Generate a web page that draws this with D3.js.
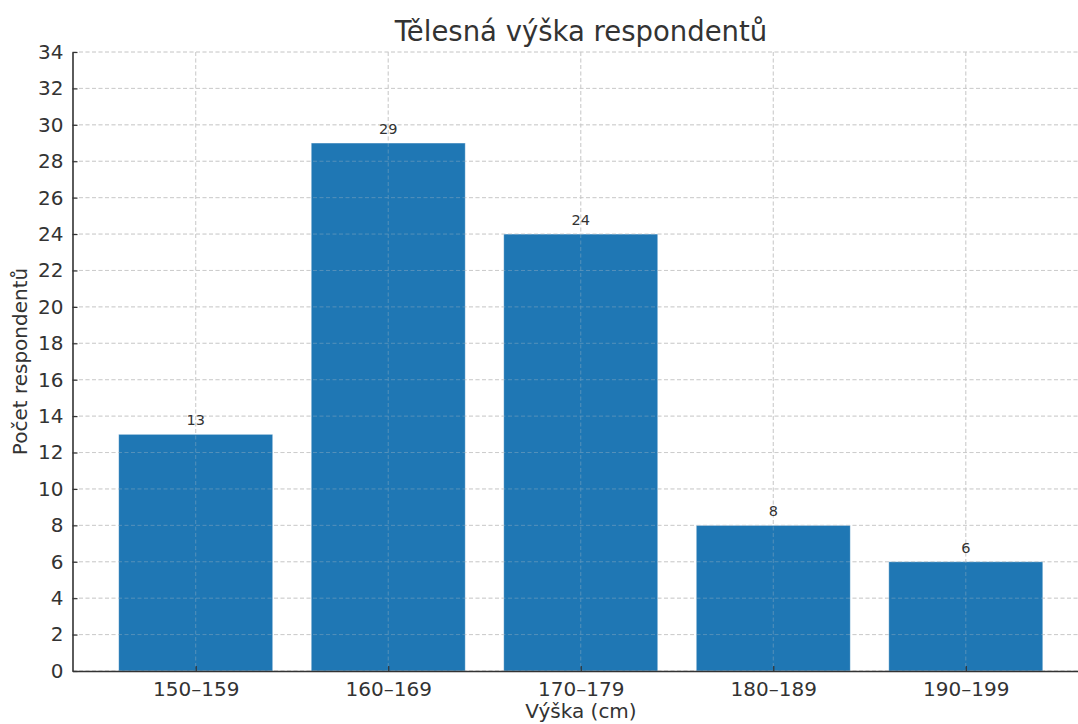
<!DOCTYPE html>
<html>
<head>
<meta charset="utf-8">
<script src="https://cdn.jsdelivr.net/npm/d3@7"></script>
<style>
  html, body { margin: 0; padding: 0; background: #fff; }
  svg { display: block; font-family: "DejaVu Sans", sans-serif; }
</style>
</head>
<body>
<svg id="chart" width="1078" height="724"></svg>
<script>
// Height groups and respondent counts
const categories = ["150–159", "160–169", "170–179", "180–189", "190–199"];
const counts = [13, 29, 24, 8, 6];
const yTicks = d3.range(0, 35, 2);

const W = 1078, H = 724;
const margin = { left: 72.5, top: 52, bottom: 53 };
const plotRight = 1089; // plot area continues past the canvas edge
const plotBottom = H - margin.bottom;

const svg = d3.select("#chart");
const textColor = "#333333";

// Linear scale on category index, with matplotlib-style margins
const x = d3.scaleLinear().domain([-0.64, categories.length - 1 + 0.64]).range([margin.left, plotRight]);
const y = d3.scaleLinear().domain([0, 34]).range([plotBottom, margin.top]);
const barWidth = 0.8;

function drawGrid(g) {
  g.selectAll("line.h").data(yTicks).join("line")
    .attr("class", "h")
    .attr("x1", margin.left).attr("x2", plotRight)
    .attr("y1", d => y(d)).attr("y2", d => y(d))
    .attr("stroke", "#c8c8c8").attr("stroke-width", 0.9)
    .attr("stroke-dasharray", "4,2.5");
  g.selectAll("line.v").data(categories.map((c, i) => i)).join("line")
    .attr("class", "v")
    .attr("x1", d => x(d)).attr("x2", d => x(d))
    .attr("y1", margin.top).attr("y2", plotBottom)
    .attr("stroke", "#c8c8c8").attr("stroke-width", 0.9)
    .attr("stroke-dasharray", "4,2.5");
}

// Grid behind bars
drawGrid(svg.append("g"));

// Bars
svg.append("g").selectAll("rect").data(counts).join("rect")
  .attr("x", (d, i) => x(i - barWidth / 2))
  .attr("width", (d, i) => x(i + barWidth / 2) - x(i - barWidth / 2))
  .attr("y", d => y(d))
  .attr("height", d => y(0) - y(d))
  .attr("fill", "#1f77b4")
  .attr("stroke", "#ffffff").attr("stroke-opacity", 0.5).attr("stroke-width", 0.8);

// Faint grid showing through the bars
drawGrid(svg.append("g").attr("opacity", 0.35));

// Value labels
svg.append("g").selectAll("text").data(counts).join("text")
  .attr("x", (d, i) => x(i))
  .attr("y", d => y(d) - 9)
  .attr("text-anchor", "middle")
  .attr("font-size", 14.5)
  .attr("fill", textColor)
  .text(d => d);

// Y axis
const yAxis = d3.axisLeft(y).tickValues(yTicks).tickSize(-5).tickPadding(9).tickSizeOuter(0);
const gy = svg.append("g").attr("transform", `translate(${margin.left},0)`).call(yAxis);
gy.select(".domain").attr("stroke", textColor).attr("stroke-width", 1.6);
gy.selectAll(".tick line").attr("stroke", textColor).attr("stroke-width", 1.2);
gy.selectAll(".tick text").attr("font-size", 20).attr("fill", textColor)
  .attr("font-family", "DejaVu Sans, sans-serif");

// X axis
const xAxis = d3.axisBottom(x).tickValues(categories.map((c, i) => i))
  .tickFormat(i => categories[i]).tickSize(-5).tickPadding(11).tickSizeOuter(0);
const gx = svg.append("g").attr("transform", `translate(0,${plotBottom})`).call(xAxis);
gx.select(".domain").attr("stroke", textColor).attr("stroke-width", 1.6);
gx.selectAll(".tick line").attr("stroke", textColor).attr("stroke-width", 1.2);
gx.selectAll(".tick text").attr("font-size", 20).attr("fill", textColor)
  .attr("font-family", "DejaVu Sans, sans-serif");

// Title and axis labels
svg.append("text")
  .attr("x", 581).attr("y", 41)
  .attr("text-anchor", "middle")
  .attr("font-size", 27.5).attr("fill", textColor)
  .text("Tělesná výška respondentů");

svg.append("text")
  .attr("x", 581).attr("y", 718)
  .attr("text-anchor", "middle")
  .attr("font-size", 20).attr("fill", textColor)
  .text("Výška (cm)");

svg.append("text")
  .attr("transform", `translate(27,${(margin.top + plotBottom) / 2}) rotate(-90)`)
  .attr("text-anchor", "middle")
  .attr("font-size", 20).attr("fill", textColor)
  .text("Počet respondentů");
</script>
</body>
</html>
